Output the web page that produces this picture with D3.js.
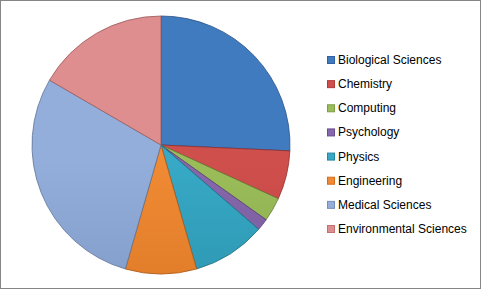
<!DOCTYPE html>
<html>
<head>
<meta charset="utf-8">
<script src="https://cdn.jsdelivr.net/npm/d3@7"></script>
<style>
  body { margin: 0; background: #fff; }
  svg { display: block; }
</style>
</head>
<body>
<svg width="481" height="289"></svg>
<script>
// subject areas and their shares (percent)
var categories = ['Biological Sciences', 'Chemistry', 'Computing', 'Psychology',
                  'Physics', 'Engineering', 'Medical Sciences', 'Environmental Sciences'];
var values = [25.7, 6.1, 3.0, 1.5, 9.2, 8.9, 28.9, 16.6];

var lightColors = ['#407bc0', '#cf4f4c', '#9bbd59', '#8768ac', '#37a9c6', '#f08a34', '#93aedb', '#de8e8e'];
var darkColors  = ['#3262a3', '#b03a38', '#7e9c44', '#684d8f', '#25879f', '#d16e1e', '#758dba', '#c07272'];

var svg = d3.select('svg');
var W = 481, H = 289;
var cx = 161, cy = 145, r = 129;

// outer frame
svg.append('rect').attr('x', 0.5).attr('y', 0.5).attr('width', W - 1).attr('height', H - 1)
    .attr('fill', '#fff').attr('stroke', '#868686').attr('stroke-width', 1);

var defs = svg.append('defs');
categories.forEach(function (c, i) {
    var g = defs.append('linearGradient').attr('id', 'g' + i)
        .attr('gradientUnits', 'userSpaceOnUse')
        .attr('x1', 0).attr('y1', cy - r).attr('x2', 0).attr('y2', cy + r);
    g.append('stop').attr('offset', '0%').attr('stop-color', lightColors[i]);
    g.append('stop').attr('offset', '100%').attr('stop-color', darkColors[i]);
});

var pie = d3.pie().sort(null).value(function (d) { return d; });
var arc = d3.arc().innerRadius(0).outerRadius(r);

var chart = svg.append('g').attr('transform', 'translate(' + cx + ',' + cy + ')');
chart.selectAll('path.slice')
    .data(pie(values))
    .enter().append('path')
    .attr('class', 'slice')
    .attr('d', arc)
    .attr('fill', function (d, i) { return 'url(#g' + i + ')'; })
    .attr('stroke', function (d, i) { return d3.color(darkColors[i]).darker(0.6); })
    .attr('stroke-width', 0.8)
    .attr('stroke-linejoin', 'round');

// legend
var legendY = d3.scalePoint().domain(categories).range([60, 229]);
var legend = svg.append('g');
var item = legend.selectAll('g.item')
    .data(categories)
    .enter().append('g')
    .attr('class', 'item')
    .attr('transform', function (d) { return 'translate(327,' + legendY(d) + ')'; });

item.append('rect')
    .attr('x', 0.5).attr('y', -3.5).attr('width', 7).attr('height', 7)
    .attr('fill', function (d, i) { return lightColors[i]; })
    .attr('stroke', function (d, i) { return darkColors[i]; })
    .attr('stroke-width', 1);

item.append('text')
    .attr('x', 11).attr('y', 4)
    .attr('font-family', 'Liberation Sans, Arial, sans-serif')
    .attr('font-size', 12)
    .attr('fill', '#000')
    .text(function (d) { return d; });
</script>
</body>
</html>
